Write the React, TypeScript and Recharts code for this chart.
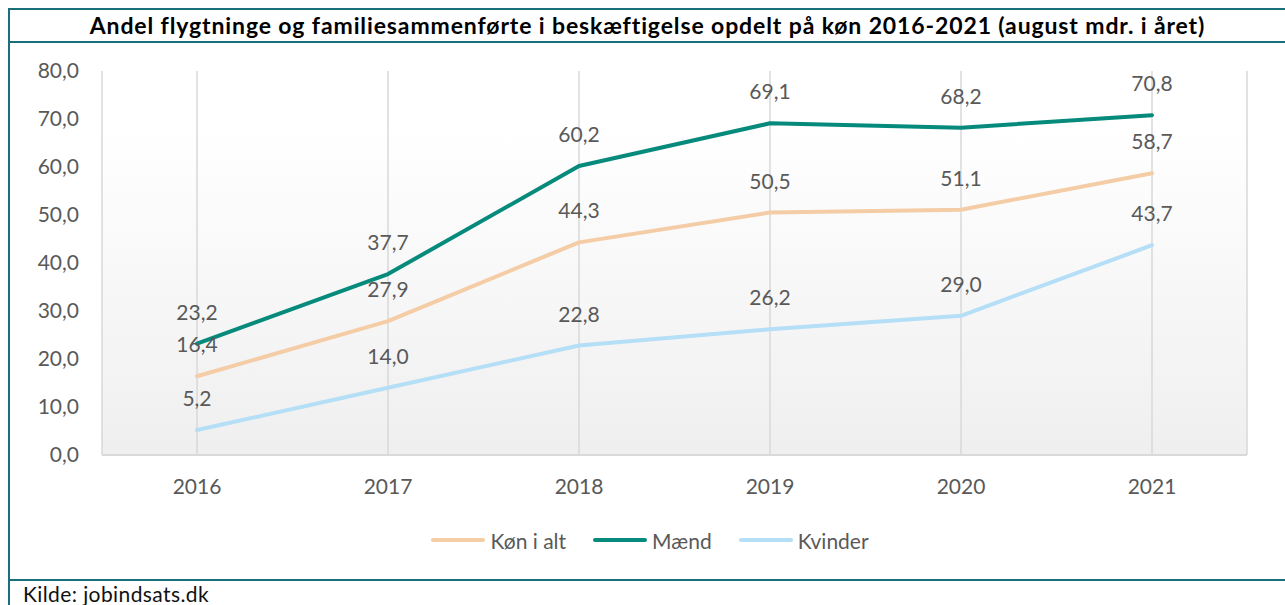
import React from 'react';
import { LineChart, Line, XAxis, YAxis, CartesianGrid, Legend, LabelList } from 'recharts';

const years = ['2016', '2017', '2018', '2019', '2020', '2021'];
const konIAlt = [16.4, 27.9, 44.3, 50.5, 51.1, 58.7];
const maend = [23.2, 37.7, 60.2, 69.1, 68.2, 70.8];
const kvinder = [5.2, 14.0, 22.8, 26.2, 29.0, 43.7];
const yTicks = [0, 10, 20, 30, 40, 50, 60, 70, 80];
const seriesNames = ['Køn i alt', 'Mænd', 'Kvinder'];

const data = years.map((y, i) => ({ year: y, total: konIAlt[i], men: maend[i], women: kvinder[i] }));

const FONT = 'Lato, "Open Sans", sans-serif';
const GRAY = '#595959';
const TEAL_BORDER = '#17707a';

const fmt = (v: any) => Number(v).toFixed(1).replace('.', ',');

const renderLegend = (props: any) => {
  const payload = [...(props.payload || [])].sort(
    (a: any, b: any) => seriesNames.indexOf(a.value) - seriesNames.indexOf(b.value)
  );
  return (
    <div style={{ display: 'flex', justifyContent: 'center', alignItems: 'center', height: 30, gap: 27, fontFamily: FONT, fontSize: 21, color: GRAY }}>
      {payload.map((p: any) => (
        <div key={p.value} style={{ display: 'flex', alignItems: 'center' }}>
          <span style={{ display: 'inline-block', width: 54, height: 4, borderRadius: 2, background: p.color, marginRight: 5 }} />
          <span>{p.value}</span>
        </div>
      ))}
    </div>
  );
};

export default function App() {
  const labelStyle = { fill: GRAY, fontSize: 21, fontFamily: FONT };
  return (
    <div style={{ position: 'absolute', top: 8, left: 8, width: 1277, height: 597, overflow: 'hidden', fontFamily: FONT, background: '#fff' }}>
      <div style={{ position: 'absolute', top: 0, left: 0, width: 1277, height: 2, background: TEAL_BORDER }} />
      <div style={{ position: 'absolute', top: 0, left: 0, width: 2, height: 597, background: TEAL_BORDER }} />
      <div style={{ position: 'absolute', top: 33, left: 0, width: 1277, height: 2, background: TEAL_BORDER }} />
      <div style={{ position: 'absolute', top: 571, left: 0, width: 1277, height: 2, background: TEAL_BORDER }} />
      <div style={{ position: 'absolute', top: 0, left: 1, width: 1277, height: 34, display: 'flex', alignItems: 'center', justifyContent: 'center', fontWeight: 700, fontSize: 23, letterSpacing: 0.88, color: '#000', whiteSpace: 'nowrap' }}>
        Andel flygtninge og familiesammenførte i beskæftigelse opdelt på køn 2016-2021 (august mdr. i året)
      </div>
      <div style={{ position: 'absolute', top: 573, left: 15, fontSize: 21, letterSpacing: 0.4, color: '#111', lineHeight: 1.2, whiteSpace: 'nowrap' }}>
        Kilde: jobindsats.dk
      </div>
      <div style={{ position: 'absolute', top: 34, left: 0 }}>
        <LineChart width={1277} height={538} data={data} margin={{ top: 29, right: 38, bottom: 25, left: 0 }}>
          <defs>
            <linearGradient id="plotBg" x1="0" y1="0" x2="0" y2="1">
              <stop offset="0" stopColor="#ffffff" />
              <stop offset="0.15" stopColor="#ffffff" />
              <stop offset="1" stopColor="#efefef" />
            </linearGradient>
          </defs>
          <CartesianGrid horizontal={false} stroke="#d9d9d9" strokeWidth={1.5} fill="url(#plotBg)" fillOpacity={1} />
          <XAxis
            dataKey="year"
            padding={{ left: 95, right: 95 }}
            axisLine={{ stroke: '#d9d9d9', strokeWidth: 2 }}
            tickLine={false}
            tickSize={0}
            tickMargin={24}
            height={70}
            tick={{ fill: GRAY, fontSize: 21, fontFamily: FONT }}
          />
          <YAxis
            domain={[0, 80]}
            ticks={yTicks}
            width={94}
            axisLine={false}
            tickLine={false}
            tickSize={0}
            tickMargin={23}
            tickFormatter={fmt}
            tick={{ fill: GRAY, fontSize: 21, fontFamily: FONT }}
          />
          <Legend verticalAlign="bottom" content={renderLegend} wrapperStyle={{ left: 0, width: 1284 }} />
          <Line type="linear" dataKey="total" name="Køn i alt" stroke="#f4cda6" strokeWidth={4} strokeLinecap="round" strokeLinejoin="round" dot={false} isAnimationActive={false}>
            <LabelList dataKey="total" position="top" offset={24} formatter={fmt} style={labelStyle} />
          </Line>
          <Line type="linear" dataKey="men" name="Mænd" stroke="#058a7b" strokeWidth={4} strokeLinecap="round" strokeLinejoin="round" dot={false} isAnimationActive={false}>
            <LabelList dataKey="men" position="top" offset={24} formatter={fmt} style={labelStyle} />
          </Line>
          <Line type="linear" dataKey="women" name="Kvinder" stroke="#b5dff6" strokeWidth={4} strokeLinecap="round" strokeLinejoin="round" dot={false} isAnimationActive={false}>
            <LabelList dataKey="women" position="top" offset={24} formatter={fmt} style={labelStyle} />
          </Line>
        </LineChart>
      </div>
    </div>
  );
}
